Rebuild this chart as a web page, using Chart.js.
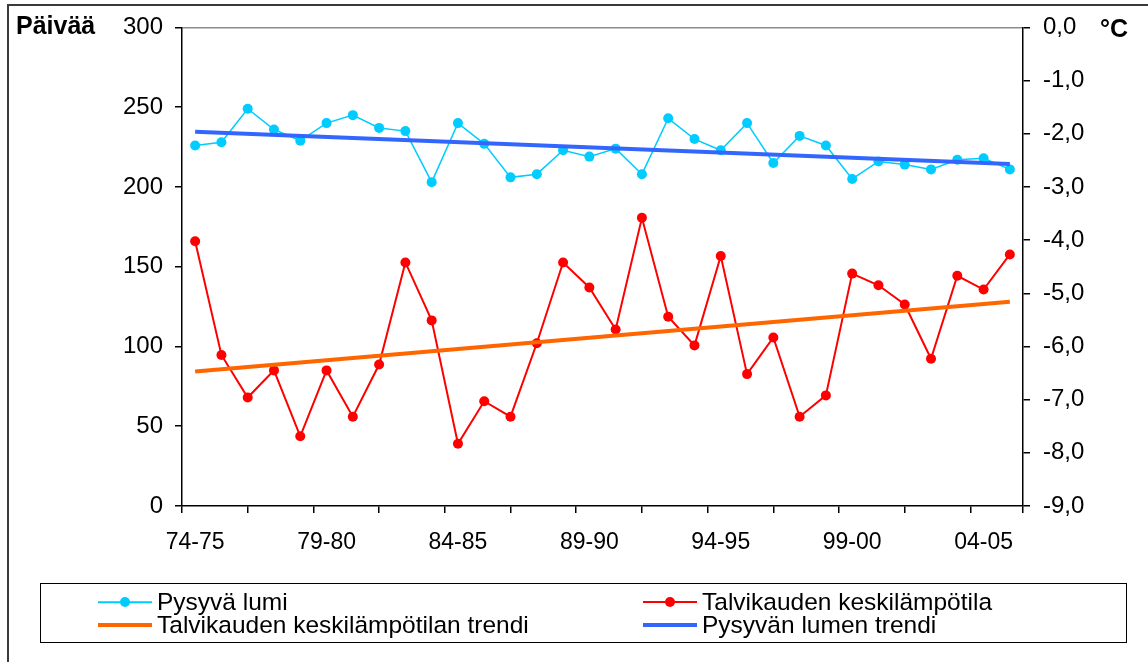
<!DOCTYPE html>
<html lang="fi">
<head>
<meta charset="utf-8">
<title>Pysyvä lumi ja talvikauden keskilämpötila</title>
<script src="https://cdn.jsdelivr.net/npm/chart.js@4.4.1/dist/chart.umd.min.js"></script>
<style>
  html, body { margin: 0; padding: 0; background: #fff; overflow: hidden; }
  body { width: 1148px; height: 662px; position: relative; font-family: "Liberation Sans", Arial, sans-serif; color: #000; }
  .frame { position: absolute; left: 7px; top: 4px; width: 1200px; height: 700px; border: 2px solid #3a3a3a; }
  .wrap { position: absolute; left: 0; top: 0; width: 1148px; height: 662px; }
  .axis-title { position: absolute; font-weight: bold; white-space: nowrap; }
  .axis-title.left { left: 16px; top: 11px; font-size: 25px; line-height: 28px; }
  .axis-title.right { left: 1100px; top: 14px; font-size: 25px; line-height: 28px; }
  #legend {
    position: absolute; left: 40px; top: 583px; width: 1087px; height: 60px;
    box-sizing: border-box; border: 1px solid #000;
    display: grid; grid-template-columns: 545px auto; grid-auto-rows: 22.5px;
    padding: 7px 0 0 57px; font-size: 24.5px;
  }
  #legend .item { white-space: nowrap; display: flex; align-items: center; height: 22.5px; line-height: 22.5px; }
  #legend .sample { position: relative; flex: 0 0 54px; height: 22.5px; margin-right: 5px; }
  #legend .line { position: absolute; left: 0; right: 0; top: 50%; transform: translateY(-50%); }
  #legend .dot { position: absolute; left: 50%; top: 50%; width: 10px; height: 10px; border-radius: 50%; transform: translate(-50%, -50%); }
</style>
</head>
<body>
<div class="frame"></div>
<div class="wrap"><canvas id="chart"></canvas></div>
<div class="axis-title left">Päivää</div>
<div class="axis-title right">°C</div>
<div id="legend"></div>
<script>
// talvikaudet
const seasons = ['74-75', '75-76', '76-77', '77-78', '78-79', '79-80', '80-81', '81-82',
  '82-83', '83-84', '84-85', '85-86', '86-87', '87-88', '88-89', '89-90', '90-91', '91-92',
  '92-93', '93-94', '94-95', '95-96', '96-97', '97-98', '98-99', '99-00', '00-01', '01-02',
  '02-03', '03-04', '04-05', '05-06'];

// pysyvän lumen päivät
const snowDays = [226, 228, 249, 236, 229, 240, 245, 237, 235, 203, 240, 227, 206, 208, 223, 219,
  224, 208, 243, 230, 223, 240, 215, 232, 226, 205, 216, 214, 211, 217, 218, 211];

// talvikauden keskilämpötila (°C)
const winterTemp = [-4.02, -6.16, -6.96, -6.45, -7.69, -6.45, -7.32, -6.34, -4.42, -5.51, -7.83,
  -7.03, -7.32, -5.94, -4.42, -4.89, -5.68, -3.58, -5.44, -5.98, -4.30, -6.52, -5.83, -7.32,
  -6.92, -4.63, -4.85, -5.21, -6.23, -4.67, -4.93, -4.27];

// trendien alku- ja loppuarvot
const snowTrendEnds = [234.6, 214.3];
const tempTrendEnds = [-6.47, -5.16];

// akselit
const dayTicks = [0, 50, 100, 150, 200, 250, 300];
const tempTicks = [0, -1, -2, -3, -4, -5, -6, -7, -8, -9];
const seasonLabelIdx = [0, 5, 10, 15, 20, 25, 30];
const seasonTickMarks = [-0.5, 2, 4.5, 7, 9.5, 12, 14.5, 17, 19.5, 22, 24.5, 27, 29.5, 31.5];

const last = seasons.length - 1;
const toPoints = arr => arr.map((v, i) => ({ x: i, y: v }));
const trendPoints = ends => [{ x: 0, y: ends[0] }, { x: last, y: ends[1] }];

const tickFont = { family: '"Liberation Sans", Arial, sans-serif', size: 23 };
const valueFont = { family: '"Liberation Sans", Arial, sans-serif', size: 24 };

const chart = new Chart(document.getElementById('chart'), {
  type: 'line',
  data: {
    datasets: [
      {
        label: 'Pysyvä lumi',
        data: toPoints(snowDays),
        yAxisID: 'y',
        borderColor: '#00CCFF',
        backgroundColor: '#00CCFF',
        borderWidth: 1.5,
        pointRadius: 5,
        pointBorderWidth: 0,
        order: 3
      },
      {
        label: 'Talvikauden keskilämpötila',
        data: toPoints(winterTemp),
        yAxisID: 'y1',
        borderColor: '#FF0000',
        backgroundColor: '#FF0000',
        borderWidth: 2,
        pointRadius: 5,
        pointBorderWidth: 0,
        order: 2
      },
      {
        label: 'Talvikauden keskilämpötilan trendi',
        data: trendPoints(tempTrendEnds),
        yAxisID: 'y1',
        borderColor: '#FF6600',
        borderWidth: 4,
        pointRadius: 0,
        order: 1
      },
      {
        label: 'Pysyvän lumen trendi',
        data: trendPoints(snowTrendEnds),
        yAxisID: 'y',
        borderColor: '#3366FF',
        borderWidth: 4,
        pointRadius: 0,
        order: 0
      }
    ]
  },
  options: {
    responsive: true,
    maintainAspectRatio: false,
    animation: false,
    layout: { padding: { top: 25, left: 0, right: 0, bottom: 0 } },
    plugins: { legend: { display: false }, tooltip: { enabled: false } },
    scales: {
      x: {
        type: 'linear',
        position: 'bottom',
        weight: 0,
        min: -0.5,
        max: 31.5,
        afterBuildTicks: s => { s.ticks = seasonTickMarks.map(v => ({ value: v })); },
        afterFit: s => { s.height = 7; },
        grid: { drawOnChartArea: false, tickLength: 7, tickColor: '#000', lineWidth: 1.5 },
        border: { color: '#000', width: 1.5 },
        ticks: { display: false }
      },
      xLabels: {
        type: 'linear',
        position: 'bottom',
        weight: 1,
        min: -0.5,
        max: 31.5,
        afterBuildTicks: s => { s.ticks = seasonLabelIdx.map(v => ({ value: v })); },
        afterFit: s => { s.height = 149; },
        grid: { display: false, drawTicks: false },
        border: { display: false },
        ticks: {
          color: '#000',
          font: tickFont,
          padding: 16,
          maxRotation: 0,
          autoSkip: false,
          callback: v => seasons[v]
        }
      },
      y: {
        type: 'linear',
        position: 'left',
        min: 0,
        max: 300,
        afterBuildTicks: s => { s.ticks = dayTicks.map(v => ({ value: v })); },
        afterFit: s => { s.width = 182; },
        grid: {
          color: c => (c.tick && c.tick.value === 300 ? '#8c8c8c' : 'rgba(0,0,0,0)'),
          tickColor: '#000',
          tickLength: 7,
          lineWidth: 1.5
        },
        border: { color: '#000', width: 1.5 },
        ticks: { color: '#000', font: valueFont, padding: 12 }
      },
      y1: {
        type: 'linear',
        position: 'right',
        min: -9,
        max: 0,
        afterBuildTicks: s => { s.ticks = tempTicks.map(v => ({ value: v })); },
        afterFit: s => { s.width = 125; },
        grid: { drawOnChartArea: false, tickColor: '#000', tickLength: 7, lineWidth: 1.5 },
        border: { color: '#000', width: 1.5 },
        ticks: {
          color: '#000',
          font: valueFont,
          padding: 13,
          callback: v => v.toFixed(1).replace('.', ',')
        }
      }
    }
  }
});

// selite: kaksi saraketta laatikossa
const legendBox = document.getElementById('legend');
chart.data.datasets.forEach(ds => {
  const item = document.createElement('div');
  item.className = 'item';
  const sample = document.createElement('span');
  sample.className = 'sample';
  const line = document.createElement('span');
  line.className = 'line';
  line.style.height = ds.borderWidth + 'px';
  line.style.background = ds.borderColor;
  sample.appendChild(line);
  if (ds.pointRadius > 0) {
    const dot = document.createElement('span');
    dot.className = 'dot';
    dot.style.background = ds.backgroundColor;
    sample.appendChild(dot);
  }
  const text = document.createElement('span');
  text.textContent = ds.label;
  item.appendChild(sample);
  item.appendChild(text);
  legendBox.appendChild(item);
});
</script>
</body>
</html>
